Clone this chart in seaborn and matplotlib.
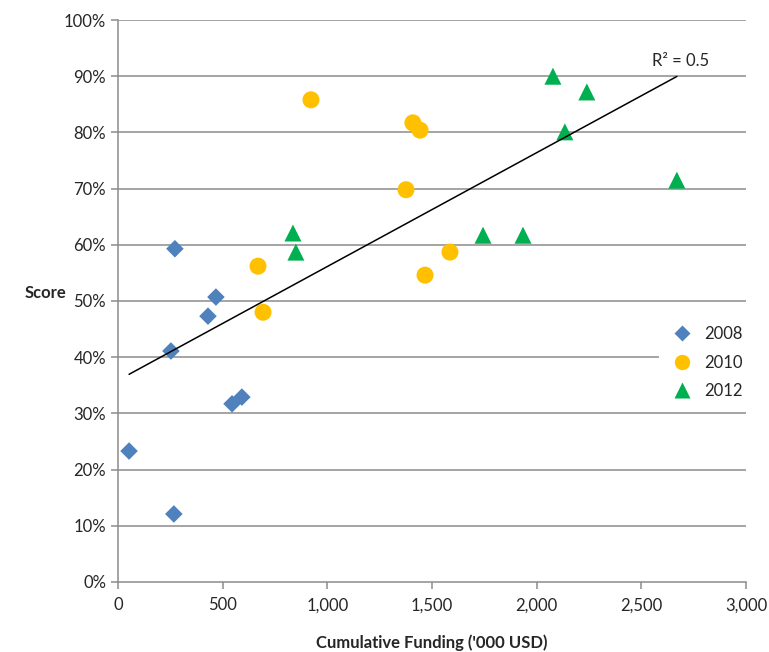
import numpy as np
import pandas as pd
import matplotlib
matplotlib.use("Agg")
import matplotlib.pyplot as plt
import seaborn as sns
from matplotlib.ticker import FuncFormatter

# Values
funding_2008 = [53, 267, 253, 272, 430, 468, 545, 592]
score_2008 = [23.3, 12.1, 41.1, 59.3, 47.3, 50.7, 31.7, 32.9]

funding_2010 = [922, 669, 693, 1409, 1443, 1376, 1467, 1586]
score_2010 = [85.8, 56.2, 48.0, 81.7, 80.4, 69.8, 54.6, 58.7]

funding_2012 = [836, 850, 1744, 1935, 2078, 2135, 2240, 2670]
score_2012 = [62.1, 58.7, 61.7, 61.7, 90.0, 80.1, 87.2, 71.5]

years = ["2008", "2010", "2012"]
palette = {"2008": "#4F81BD", "2010": "#FFC000", "2012": "#00B050"}
markers = {"2008": "D", "2010": "o", "2012": "^"}
marker_sizes = {"2008": 80, "2010": 150, "2012": 150}

df = pd.concat([
    pd.DataFrame({"funding": funding_2008, "score": score_2008, "year": "2008"}),
    pd.DataFrame({"funding": funding_2010, "score": score_2010, "year": "2010"}),
    pd.DataFrame({"funding": funding_2012, "score": score_2012, "year": "2012"}),
], ignore_index=True)

sns.set_style("white")
plt.rcParams["font.family"] = ["Lato", "DejaVu Sans"]

fig = plt.figure(figsize=(7.69, 6.52), dpi=100)
ax = fig.add_axes([0.1534, 0.1074, 0.8166, 0.8619])

# grid lines first so markers sit on top
for v in range(10, 101, 10):
    ax.axhline(v, color="#8c8c8c", lw=1.1, zorder=0)

sns.scatterplot(data=df, x="funding", y="score", hue="year", style="year",
                size="year", sizes=marker_sizes, palette=palette,
                markers=markers, hue_order=years, style_order=years,
                size_order=years, edgecolor="none", ax=ax, zorder=3)

# linear trend line over all points
slope, intercept = np.polyfit(df["funding"], df["score"], 1)
xs = np.array([df["funding"].min(), df["funding"].max()])
ax.plot(xs, slope * xs + intercept, color="black", lw=1.1, zorder=4)
ax.text(2690, 91.2, "R² = 0.5", fontsize=12, ha="center", va="bottom")

ax.set_xlim(0, 3000)
ax.set_ylim(0, 100)
ax.set_xticks(range(0, 3001, 500))
ax.set_yticks(range(0, 101, 10))
ax.xaxis.set_major_formatter(FuncFormatter(lambda v, p: f"{int(v):,}"))
ax.yaxis.set_major_formatter(FuncFormatter(lambda v, p: f"{int(v)}%"))
ax.tick_params(axis="both", direction="out", length=5, color="#8c8c8c",
               labelsize=12, width=1.1, left=True, bottom=True)
ax.tick_params(axis="x", pad=6)

for side in ["top", "right"]:
    ax.spines[side].set_visible(False)
for side in ["left", "bottom"]:
    ax.spines[side].set_color("#8c8c8c")
    ax.spines[side].set_linewidth(1.1)

ax.set_xlabel("Cumulative Funding ('000 USD)", fontsize=12, fontweight="bold")
ax.xaxis.set_label_coords(0.5, -0.093)
ax.set_ylabel("Score", fontsize=12, fontweight="bold", rotation=0)
ax.yaxis.set_label_coords(-0.115, 0.5)

# legend sits on a white box that hides the 40% grid line behind it
leg = ax.legend(loc="center left", bbox_to_anchor=(0.848, 0.39), frameon=True,
                fontsize=12, handletextpad=0.3, labelspacing=0.75,
                facecolor="white", edgecolor="none", framealpha=1,
                fancybox=False)
for h, yr in zip(leg.legend_handles, years):
    h.set_markersize(np.sqrt(marker_sizes[yr]) * 0.9)

fig.savefig("out.png", dpi=100)
